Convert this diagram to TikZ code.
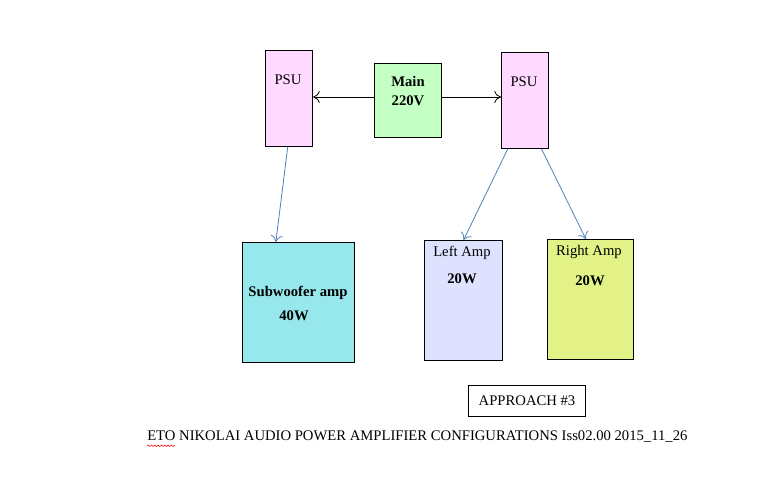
\documentclass[tikz,border=0pt]{standalone}
\usepackage{fontspec}
\setmainfont{Liberation Serif}
\usetikzlibrary{arrows.meta,decorations.pathmorphing}
\definecolor{cPsu}{RGB}{255,217,255}
\definecolor{cMain}{RGB}{196,255,196}
\definecolor{cSub}{RGB}{150,232,236}
\definecolor{cLeft}{RGB}{222,226,255}
\definecolor{cRight}{RGB}{226,242,134}
\definecolor{cLink}{RGB}{79,129,189}
\tikzset{
  box/.style={draw,line width=0.8pt,anchor=north west,inner sep=0pt},
  txt/.style={font=\fontsize{11}{13}\selectfont,inner sep=0pt,align=center},
  btxt/.style={txt,font=\fontsize{11}{14}\selectfont\bfseries},
  feed/.style={-{To[length=5pt,width=9pt]},line width=0.6pt},
}
\begin{document}
\begin{tikzpicture}[x=0.75pt,y=-0.75pt]
\useasboundingbox (0,0) rectangle (769,489);

%boxes
\node[box,fill=cPsu,minimum width=35.25pt,minimum height=72pt] (psuL) at (265,50){};
\node[box,fill=cMain,minimum width=50.25pt,minimum height=55.5pt] (main) at (374,63){};
\node[box,fill=cPsu,minimum width=35.25pt,minimum height=72pt] (psuR) at (501,52){};
\node[box,fill=cSub,minimum width=84pt,minimum height=90pt] (sub) at (242,242){};
\node[box,fill=cLeft,minimum width=58.5pt,minimum height=90pt] (ampL) at (424,240){};
\node[box,fill=cRight,minimum width=64.5pt,minimum height=90pt] (ampR) at (547,239){};
\node[box,minimum width=87.75pt,minimum height=23.25pt] (appr) at (468,385){};

%texts
\node[txt] (psuLt) at (288,80) {PSU};
\node[txt] (psuRt) at (524,82) {PSU};
\node[btxt] (maint) at (408,91) {Main\\220V};
\node[btxt] (subt) at (298,293) {Subwoofer amp};
\node[btxt] (subw) at (294,316) {40W};
\node[txt] (ampLt) at (462,253) {Left Amp};
\node[btxt] (ampLw) at (462,279) {20W};
\node[txt] (ampRt) at (589,252) {Right Amp};
\node[btxt] (ampRw) at (590,281) {20W};
\node[txt] (apprt) at (appr.center) {APPROACH \#3};
\node[txt,anchor=west] (foot) at (147,437) {ETO NIKOLAI AUDIO POWER AMPLIFIER CONFIGURATIONS Iss02.00 2015\_11\_26};

%spell check mark
\draw[red,line width=0.4pt,decorate,decoration={snake,amplitude=0.6pt,segment length=2.5pt}]
  ([yshift=-2pt]foot.south west) -- ++(21pt,0);

%mains feed
\draw[feed] (main.west |- 0,97) -- (psuL.east |- 0,97);
\draw[feed] (main.east |- 0,97) -- (psuR.west |- 0,97);

%supply lines
\draw[feed,cLink] ([xshift=-1pt]psuL.south) -- ([xshift=-17pt]sub.north);
\draw[feed,cLink] ([xshift=-13pt]psuR.south) -- (ampL.north);
\draw[feed,cLink] ([xshift=12.4pt]psuR.south) -- ([xshift=-3.5pt]ampR.north);

\end{tikzpicture}
\end{document}
